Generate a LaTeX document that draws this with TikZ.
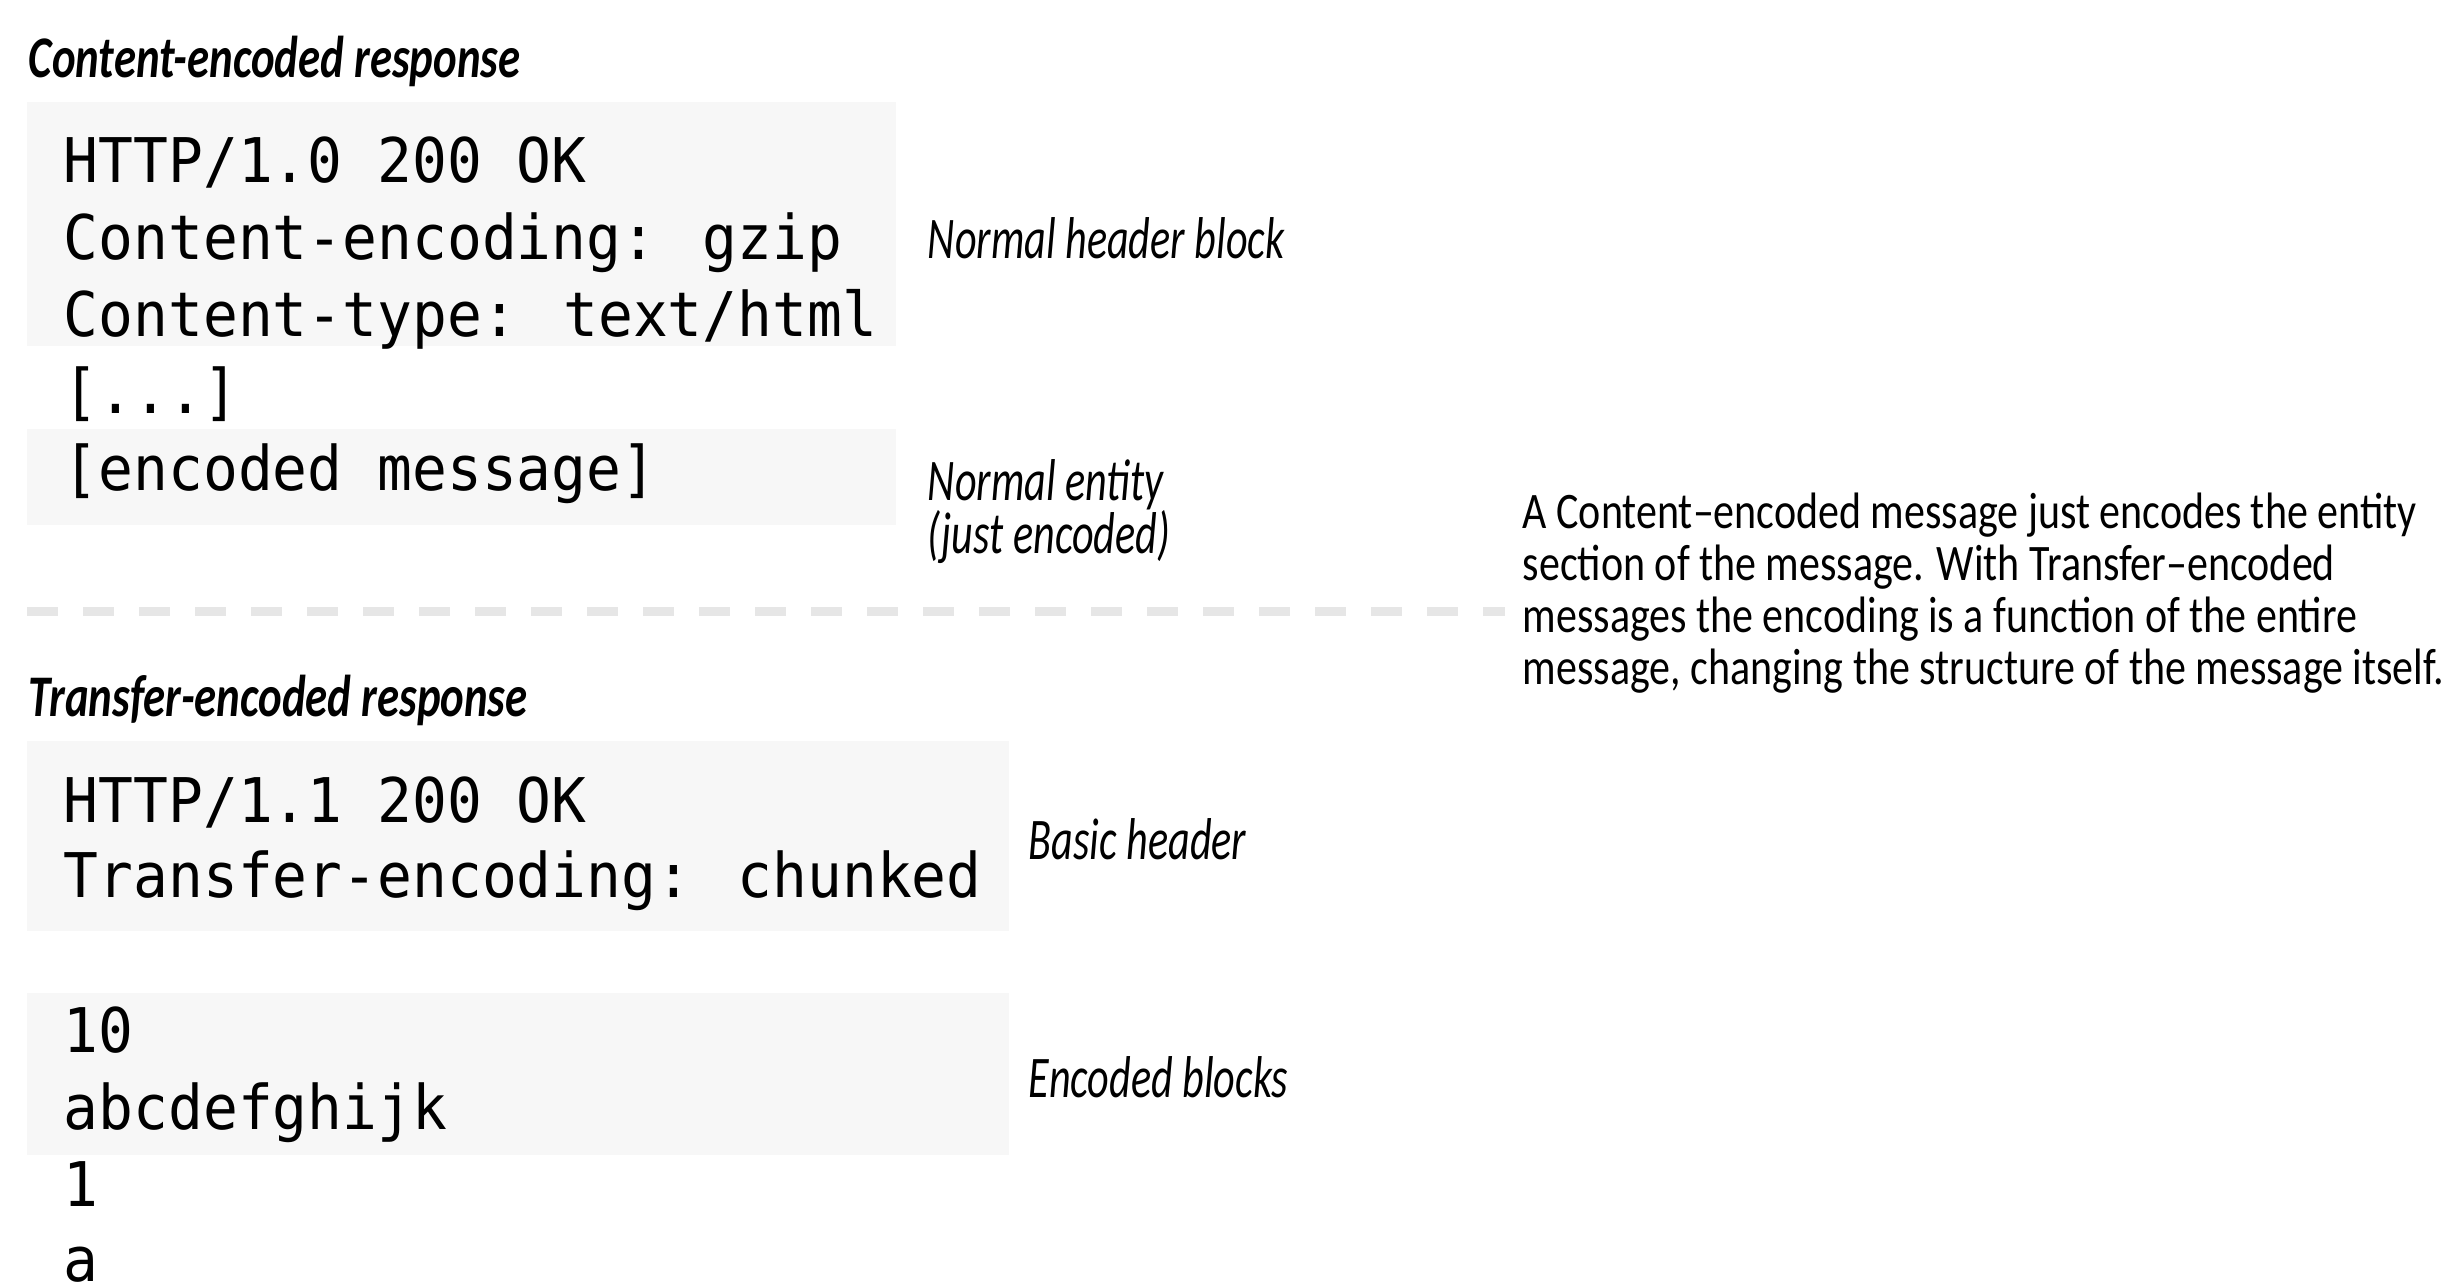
\documentclass[tikz,border=0pt]{standalone}
\usepackage{fontspec}
\newfontfamily\codefont[FakeStretch=0.94]{DejaVu Sans Mono}
\newfontfamily\notefont[FakeStretch=0.715]{Carlito}
\newfontfamily\titlefont[FakeStretch=0.76]{Carlito}
\newfontfamily\parafont[FakeStretch=0.82]{Carlito}
\definecolor{boxgray}{HTML}{F7F7F7}
\definecolor{dashgray}{HTML}{E6E6E6}

\begin{document}
\begin{tikzpicture}[x=0.25pt,y=-0.25pt,
  code/.style={anchor=base west,inner sep=0pt,font=\codefont\fontsize{15.4pt}{19pt}\selectfont},
  note/.style={anchor=base west,inner sep=0pt,font=\notefont\itshape\fontsize{14.75pt}{18pt}\selectfont},
  ttl/.style={note,font=\titlefont\bfseries\itshape\fontsize{14.75pt}{18pt}\selectfont},
  codebox/.style={fill=boxgray}]
  \useasboundingbox (0,0) rectangle (2457,1283);
  % Content-encoded response
  \node[ttl] (cetitle) at (28,78) {Content-encoded response};
  \fill[codebox] (27,102) rectangle (896,346);
  \fill[codebox] (27,429) rectangle (896,525);
  \node[code] (ce1) at (63,183) {HTTP/1.0 200 OK};
  \node[code] (ce2) at (63,260) {Content-encoding: gzip};
  \node[code] (ce3) at (63,337) {Content-type: text/html};
  \node[code] (ce4) at (63,414) {[...]};
  \node[code] (ce5) at (63,491) {[encoded message]};
  \node[note] (hdrnote) at (927,259) {Normal header block};
  \node[note] (entnote) at (927,501) {Normal entity};
  \node[note] (entnote2) at (927,554) {(just encoded)};
  % divider
  \draw[dashgray,line width=2.25pt,dash pattern=on 7.75pt off 6.25pt] (27,612) -- (1505,612);
  % Transfer-encoded response
  \node[ttl] (tetitle) at (28,717) {Transfer-encoded response};
  \fill[codebox] (27,741) rectangle (1009,931);
  \fill[codebox] (27,993) rectangle (1009,1155);
  \node[code] (te1) at (63,823) {HTTP/1.1 200 OK};
  \node[code] (te2) at (63,898) {Transfer-encoding: chunked};
  \node[code] (te3) at (63,1053) {10};
  \node[code] (te4) at (63,1130) {abcdefghijk};
  \node[code] (te5) at (63,1207) {1};
  \node[code] (te6) at (63,1282) {a};
  \node[note] (basicnote) at (1028,860) {Basic header};
  \node[note] (blocknote) at (1028,1098) {Encoded blocks};
  % explanation (base = last line)
  \node[anchor=base west,inner sep=0pt,align=left,
    font=\parafont\fontsize{12.8pt}{13pt}\selectfont] (expl) at (1522,685)
    {A Content–encoded message just encodes the entity\\
     section of the message. With Transfer–encoded\\
     messages the encoding is a function of the entire\\
     message, changing the structure of the message itself.};
\end{tikzpicture}
\end{document}
